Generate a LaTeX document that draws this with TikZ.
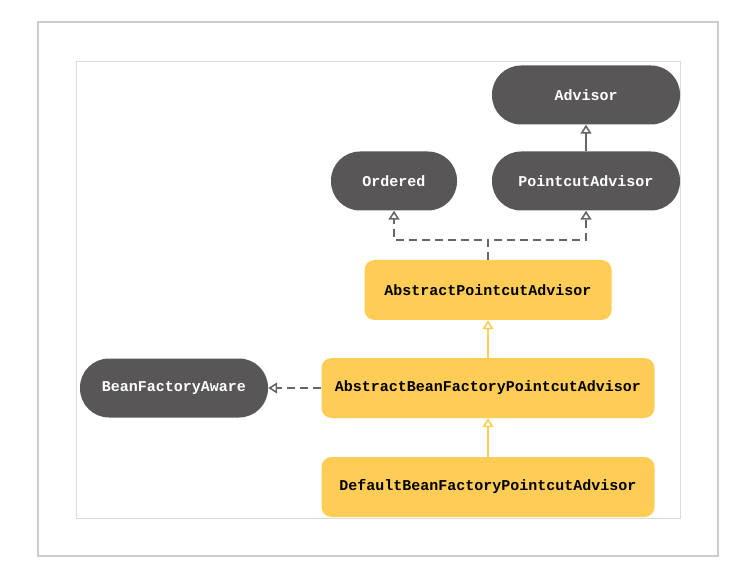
\documentclass[tikz,border=0pt]{standalone}
\usepackage{fontspec}
\setmonofont{Liberation Mono}
\usepackage{tikz}
\usetikzlibrary{arrows.meta}
\usetikzlibrary{positioning}
\definecolor{darkbox}{RGB}{89,86,87}
\definecolor{yellowbox}{RGB}{255,204,85}
\definecolor{linegray}{RGB}{102,102,102}
\tikzset{iface/.style={fill=darkbox,text=white,rounded corners=29pt,minimum height=59pt,inner sep=0pt,font=\ttfamily\bfseries\fontsize{15}{17}\selectfont}}
\tikzset{cls/.style={fill=yellowbox,text=black,rounded corners=10pt,minimum height=60pt,inner sep=0pt,font=\ttfamily\bfseries\fontsize{15}{17}\selectfont}}
\tikzset{inherit/.style={-{Triangle[open,length=9pt,width=11pt]},line width=1.6pt}}

\begin{document}
\begin{tikzpicture}[x=1pt,y=-1pt]
        \useasboundingbox (0,0) rectangle (747,569);
        \draw[line width=2pt,draw=black!20] (38,22) rectangle (718,556);
        \draw[line width=0.8pt,draw=black!14] (76,61) rectangle (680,518);

        \node[iface,minimum width=188pt] (adv) at (586,95) {Advisor};
        \node[iface,minimum width=126pt] (ord) at (394,181) {Ordered};
        \node[iface,minimum width=188pt] (pca) at (586,181) {PointcutAdvisor};
        \node[cls,minimum width=247pt] (apa) at (488,290) {AbstractPointcutAdvisor};
        \node[cls,minimum width=333pt] (abf) at (488,388) {AbstractBeanFactoryPointcutAdvisor};
        \node[cls,minimum width=333pt] (dbf) at (488,487) {DefaultBeanFactoryPointcutAdvisor};
        \node[iface,minimum width=188pt] (bfa) at (174,388) {BeanFactoryAware};

        \draw[inherit,linegray] (pca) -- (adv);
        \draw[inherit,linegray,dashed,dash pattern=on 8pt off 5pt] (apa.north) -- ++(0,-20) -| (ord.south);
        \draw[inherit,linegray,dashed,dash pattern=on 8pt off 5pt] (apa.north) -- ++(0,-20) -| (pca.south);
        \draw[inherit,yellowbox] (abf) -- (apa);
        \draw[inherit,yellowbox] (dbf) -- (abf);
        \draw[inherit,linegray,dashed,dash pattern=on 8pt off 5pt] (abf) -- (bfa);
    \end{tikzpicture}
\end{document}
